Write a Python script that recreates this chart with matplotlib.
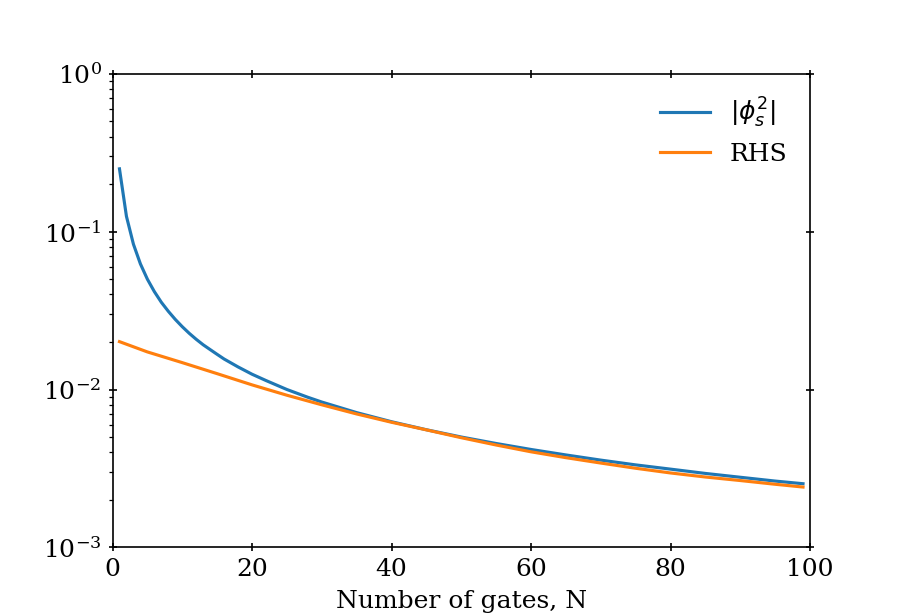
import matplotlib
matplotlib.use("Agg")
import matplotlib.pyplot as plt

plt.rcParams["font.family"] = "serif"
plt.rcParams["font.serif"] = ["DejaVu Serif"]
plt.rcParams["font.size"] = 12

# values
n_phi = [1, 2, 3, 4, 5, 6, 7, 8, 9, 10, 11, 12, 13, 14, 15, 16, 18, 20, 22,
         25, 28, 30, 35, 40, 45, 50, 55, 60, 65, 70, 75, 80, 85, 90, 95, 99]
phi_s2 = [0.250, 0.125, 0.0833, 0.0625, 0.0500, 0.0417, 0.0357, 0.0313,
          0.0278, 0.0250, 0.0227, 0.0208, 0.0192, 0.0179, 0.0167, 0.0156,
          0.0139, 0.0125, 0.0114, 0.0100, 0.00893, 0.00833, 0.00714,
          0.00625, 0.00556, 0.00500, 0.00455, 0.00417, 0.00385, 0.00357,
          0.00333, 0.00313, 0.00294, 0.00278, 0.00263, 0.00253]

n_rhs = [1, 5, 10, 15, 20, 25, 30, 35, 40, 45, 50, 55, 60, 65, 70, 75, 80,
         85, 90, 95, 99]
rhs = [0.0201, 0.0173, 0.0148, 0.0126, 0.0107, 0.0092, 0.0080, 0.0070,
       0.0062, 0.00555, 0.00495, 0.00445, 0.00403, 0.00370, 0.00342,
       0.00317, 0.00296, 0.00279, 0.00265, 0.00251, 0.00241]

fig, ax = plt.subplots(figsize=(6, 4.1), dpi=150)

ax.plot(n_phi, phi_s2, color="#1f77b4", label=r"$|\phi_s^2|$")
ax.plot(n_rhs, rhs, color="#ff7f0e", label="RHS")

ax.set_yscale("log")
ax.set_xlim(0, 100)
ax.set_ylim(1e-3, 1e0)
ax.set_xlabel("Number of gates, N")
ax.tick_params(which="major", direction="inout", top=True, right=True)
ax.legend(frameon=False, loc="upper right")

fig.savefig("out.png", dpi=150)
